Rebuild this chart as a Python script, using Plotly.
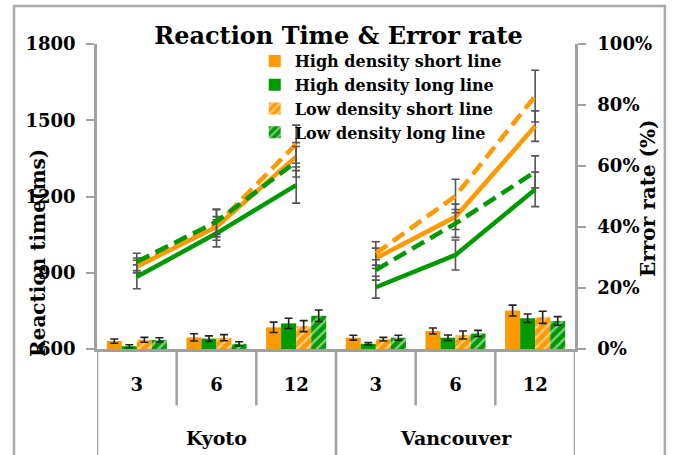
import plotly.graph_objects as go

# ---- data ----
cities = ["Kyoto", "Vancouver"]
set_sizes = ["3", "6", "12"]
series_names = ["High density short line", "High density long line",
                "Low density short line", "Low density long line"]

# reaction time (ms), left axis  (Kyoto 3,6,12 then Vancouver 3,6,12)
rt_high_short = [924, 1081, 1357, 957, 1120, 1477]
rt_high_long = [884, 1055, 1245, 843, 970, 1228]
rt_low_short = [930, 1088, 1406, 976, 1202, 1595]
rt_low_long = [943, 1101, 1337, 911, 1094, 1297]
rt_err_high_short = [25, 40, 55, 40, 50, 60]
rt_err_high_long = [47, 53, 71, 43, 59, 68]
rt_err_low_short = [28, 60, 75, 46, 66, 102]
rt_err_low_long = [34, 50, 60, 40, 55, 63]

# error rate (%), right axis
er_high_short = [2.6, 3.8, 7.1, 3.7, 5.9, 12.6]
er_high_long = [0.9, 3.4, 8.4, 1.7, 3.7, 10.1]
er_low_short = [3.0, 3.7, 7.5, 3.2, 4.6, 10.4]
er_low_long = [3.0, 1.7, 10.9, 3.7, 5.1, 9.2]
er_err_high_short = [0.7, 1.2, 1.7, 0.8, 1.0, 1.8]
er_err_high_long = [0.5, 0.9, 1.7, 0.4, 0.9, 1.4]
er_err_low_short = [0.8, 1.0, 1.8, 0.6, 1.3, 2.0]
er_err_low_long = [0.7, 0.7, 1.9, 0.8, 1.0, 1.4]

left_ticks = [600, 900, 1200, 1500, 1800]
right_ticks = [0, 0.2, 0.4, 0.6, 0.8, 1.0]

# ---- figure ----
ORANGE = "#FF9900"
GREEN = "#009A00"
FONT = "DejaVu Serif"

cats = [f"{c} {s}" for c in cities for s in set_sizes]
ticktext = [s for c in cities for s in set_sizes]
n = len(set_sizes)

fig = go.Figure()

bar_specs = [
    (series_names[0], er_high_short, er_err_high_short, ORANGE, False),
    (series_names[1], er_high_long, er_err_high_long, GREEN, False),
    (series_names[2], er_low_short, er_err_low_short, ORANGE, True),
    (series_names[3], er_low_long, er_err_low_long, GREEN, True),
]
for name, vals, errs, col, hatched in bar_specs:
    marker = dict(color=col, line=dict(width=0))
    if hatched:
        marker["pattern"] = dict(shape="/", fgcolor="white", fillmode="overlay",
                                 size=7, solidity=0.35)
    fig.add_trace(go.Bar(
        x=cats, y=[v / 100 for v in vals], name=name, marker=marker,
        error_y=dict(type="data", array=[e / 100 for e in errs], color="#222",
                     thickness=1.6, width=4),
        yaxis="y", showlegend=True,
    ))

line_specs = [
    (series_names[0], rt_high_short, rt_err_high_short, ORANGE, "solid"),
    (series_names[1], rt_high_long, rt_err_high_long, GREEN, "solid"),
    (series_names[2], rt_low_short, rt_err_low_short, ORANGE, "14px,7px"),
    (series_names[3], rt_low_long, rt_err_low_long, GREEN, "14px,7px"),
]
for name, vals, errs, col, dash in line_specs:
    for ci in range(len(cities)):
        sl = slice(ci * n, (ci + 1) * n)
        fig.add_trace(go.Scatter(
            x=cats[sl], y=vals[sl], name=name, mode="lines",
            line=dict(color=col, width=4.5, dash=dash),
            error_y=dict(type="data", array=errs[sl], color="#555", thickness=1.6, width=4),
            yaxis="y2", showlegend=False,
        ))

shapes = []
for b in [0.5, 1.5, 3.5, 4.5]:
    shapes.append(dict(type="line", xref="x", yref="paper", x0=b, x1=b, y0=0, y1=-0.185,
                       line=dict(color="#a0a0a0", width=2.5)))
for b in [-0.5, 2.5, 5.5]:
    shapes.append(dict(type="line", xref="x", yref="paper", x0=b, x1=b, y0=0, y1=-0.4,
                       line=dict(color="#a0a0a0", width=2.5)))
shapes.append(dict(type="rect", xref="paper", yref="paper", x0=-0.1736, x1=1.188,
                   y0=-0.5, y1=1.1246, line=dict(color="#aaaaaa", width=2.5),
                   fillcolor="rgba(0,0,0,0)"))

annotations = [
    dict(text=cities[0], x=cats[1], xref="x", y=-0.292, yref="paper", showarrow=False,
         font=dict(family=FONT, size=19, color="black", weight="bold"), yanchor="middle"),
    dict(text=cities[1], x=cats[4], xref="x", y=-0.292, yref="paper", showarrow=False,
         font=dict(family=FONT, size=19, color="black", weight="bold"), yanchor="middle"),
    dict(text="Reaction time(ms)", textangle=-90, x=-0.1234, xref="paper", y=0.315,
         yref="paper", showarrow=False, xanchor="center", yanchor="middle",
         font=dict(family=FONT, size=20, color="black", weight="bold")),
    dict(text="Error rate (%)", textangle=-90, x=1.1527, xref="paper", y=0.495,
         yref="paper", showarrow=False, xanchor="center", yanchor="middle",
         font=dict(family=FONT, size=20, color="black", weight="bold")),
]

tickfont = dict(family=FONT, size=18, color="black", weight="bold")

fig.update_layout(
    width=673, height=455,
    margin=dict(l=97, r=98, t=44, b=106),
    paper_bgcolor="white", plot_bgcolor="white",
    barmode="group", bargap=0.245, bargroupgap=0,
    title=dict(text="<b>Reaction Time &amp; Error rate</b>", x=0.503, xanchor="center",
               y=1 - 36 / 455, yanchor="middle",
               font=dict(family=FONT, size=24, color="black")),
    font=dict(family=FONT, color="black"),
    legend=dict(x=0.33, y=1.0, xanchor="left", yanchor="top",
                bgcolor="rgba(0,0,0,0)",
                font=dict(family=FONT, size=16, color="black", weight="bold"),
                tracegroupgap=0, itemwidth=30),
    xaxis=dict(type="category", tickvals=cats, ticktext=ticktext, showgrid=False,
               showline=True, linecolor="#a0a0a0", linewidth=2.5, ticks="",
               ticklabelstandoff=18, tickfont=tickfont,
               range=[-0.5, 5.5], zeroline=False),
    yaxis=dict(side="right", range=[0, 1], tickvals=right_ticks, tickformat=".0%",
               showgrid=False, showline=True, linecolor="#a0a0a0", linewidth=2.5,
               ticks="outside", ticklen=8, tickcolor="#a0a0a0", tickwidth=2,
               ticklabelstandoff=8, tickfont=tickfont, zeroline=False),
    yaxis2=dict(side="left", overlaying="y", range=[600, 1800], tickvals=left_ticks,
                showgrid=False, showline=True, linecolor="#a0a0a0", linewidth=2.5,
                ticks="outside", ticklen=8, tickcolor="#a0a0a0", tickwidth=2,
                ticklabelstandoff=7, tickfont=tickfont, zeroline=False),
    shapes=shapes, annotations=annotations,
)

fig.write_html("out.html", config={"displayModeBar": False},
               post_script="document.body.style.margin='0';")
